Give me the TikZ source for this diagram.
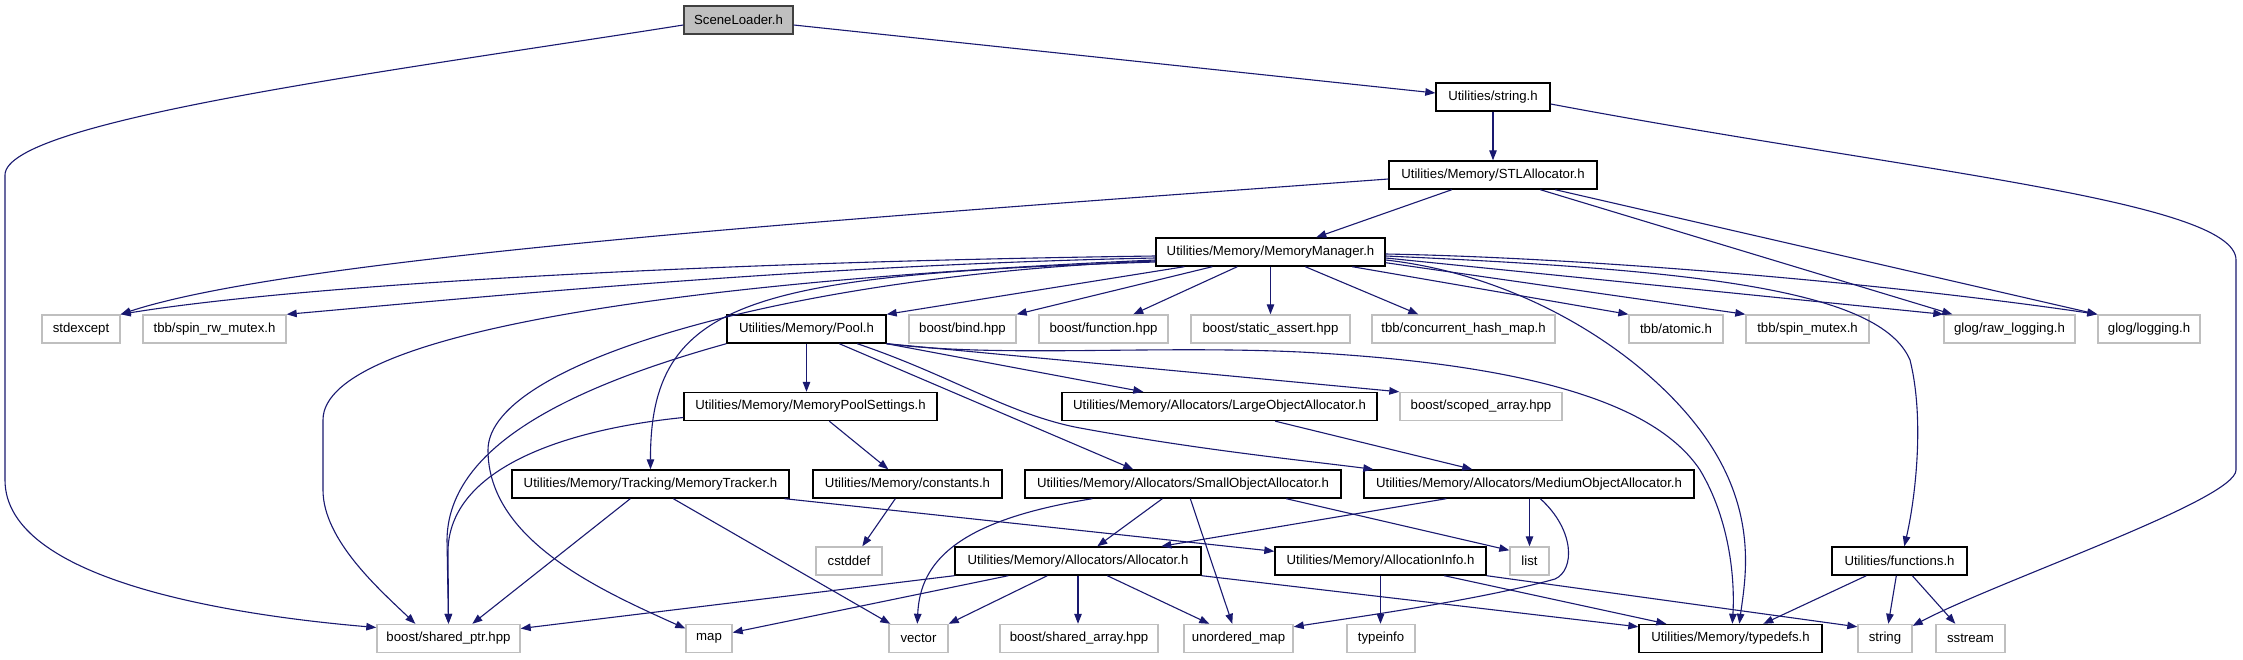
\documentclass[tikz,border=0pt]{standalone}
\usepackage{fontspec}
\setmainfont{Liberation Sans}
\usetikzlibrary{arrows.meta,calc}
\definecolor{edgeblue}{HTML}{191970}
\definecolor{boxgray}{HTML}{BFBFBF}
\definecolor{rootfill}{HTML}{BFBFBF}
\definecolor{rootdraw}{HTML}{404040}
\newcommand{\lblfont}{\fontsize{13.2}{15.8}\selectfont}
\tikzset{
  bbox/.style={draw=black, fill=white, line width=1.4pt, minimum height=28pt, inner sep=0pt, font=\lblfont},
  gbox/.style={bbox, draw=boxgray},
  rbox/.style={bbox, draw=rootdraw, fill=rootfill},
  edge/.style={draw=edgeblue, line width=1.1pt, -{Triangle[length=10pt,width=7.5pt]}},
}
\begin{document}
\begin{tikzpicture}[x=1pt,y=-1pt]
\fill[white] (0,0) rectangle (2243,659);
\useasboundingbox (0,0) rectangle (2243,659);
% row 1-4
\node[rbox, minimum width=109pt] (scene) at (738.5,20) {SceneLoader.h};
\node[bbox, minimum width=114pt] (strh) at (1493,97) {Utilities/string.h};
\node[bbox, minimum width=208pt] (stl) at (1493,175) {Utilities/Memory/STLAllocator.h};
\node[bbox, minimum width=229pt] (mm) at (1270.5,252) {Utilities/Memory/MemoryManager.h};
% row 5
\node[gbox, minimum width=78pt] (stdexcept) at (81,329) {stdexcept};
\node[gbox, minimum width=143pt] (spinrw) at (214.5,329) {tbb/spin\_rw\_mutex.h};
\node[bbox, minimum width=159pt] (pool) at (806.5,329) {Utilities/Memory/Pool.h};
\node[gbox, minimum width=107pt] (bind) at (962.5,329) {boost/bind.hpp};
\node[gbox, minimum width=129pt] (function) at (1103.5,329) {boost/function.hpp};
\node[gbox, minimum width=159pt] (sassert) at (1270.5,329) {boost/static\_assert.hpp};
\node[gbox, minimum width=183pt] (chm) at (1463.5,329) {tbb/concurrent\_hash\_map.h};
\node[gbox, minimum width=94pt] (atomic) at (1676,329) {tbb/atomic.h};
\node[gbox, minimum width=123pt] (spinm) at (1807.5,329) {tbb/spin\_mutex.h};
\node[gbox, minimum width=131pt] (rawlog) at (2009.5,329) {glog/raw\_logging.h};
\node[gbox, minimum width=102pt] (glog) at (2149,329) {glog/logging.h};
% row 6
\node[bbox, minimum width=253pt] (mps) at (810.5,406.5) {Utilities/Memory/MemoryPoolSettings.h};
\node[bbox, minimum width=315pt] (large) at (1219.5,406.5) {Utilities/Memory/Allocators/LargeObjectAllocator.h};
\node[gbox, minimum width=162pt] (scoped) at (1481,406.5) {boost/scoped\_array.hpp};
% row 7
\node[bbox, minimum width=277pt] (tracker) at (650.5,484) {Utilities/Memory/Tracking/MemoryTracker.h};
\node[bbox, minimum width=189pt] (constants) at (907.5,484) {Utilities/Memory/constants.h};
\node[bbox, minimum width=316pt] (small) at (1183,484) {Utilities/Memory/Allocators/SmallObjectAllocator.h};
\node[bbox, minimum width=330pt] (medium) at (1529,484) {Utilities/Memory/Allocators/MediumObjectAllocator.h};
% row 8
\node[gbox, minimum width=66pt] (cstddef) at (849,561) {cstddef};
\node[bbox, minimum width=246pt] (alloc) at (1078,561) {Utilities/Memory/Allocators/Allocator.h};
\node[bbox, minimum width=211pt] (ainfo) at (1380.5,561) {Utilities/Memory/AllocationInfo.h};
\node[gbox, minimum width=39pt] (list) at (1529.5,561) {list};
\node[bbox, minimum width=135pt] (functions) at (1899.5,561) {Utilities/functions.h};
% row 9
\node[gbox, minimum width=143pt] (sptr) at (448.5,638.5) {boost/shared\_ptr.hpp};
\node[gbox, minimum width=46pt] (map) at (709,638.5) {map};
\node[gbox, minimum width=59pt] (vector) at (918.5,638.5) {vector};
\node[gbox, minimum width=158pt] (sarray) at (1079,638.5) {boost/shared\_array.hpp};
\node[gbox, minimum width=109pt] (umap) at (1238.5,638.5) {unordered\_map};
\node[gbox, minimum width=68pt] (typeinfo) at (1381,638.5) {typeinfo};
\node[bbox, minimum width=183pt] (typedefs) at (1730.5,638.5) {Utilities/Memory/typedefs.h};
\node[gbox, minimum width=54pt] (string) at (1885,638.5) {string};
\node[gbox, minimum width=69pt] (sstream) at (1970.5,638.5) {sstream};

% SceneLoader
\draw[edge] ($(scene.east)+(0,5)$) -- ($(strh.west)+(0,-4)$);
\draw[edge] ($(scene.west)+(0,5)$) .. controls (400,70) and (5,120) .. (5,175) -- (5,480) .. controls (5,580) and (230,615) .. ($(sptr.west)+(0,-11)$);
% string.h
\draw[edge] (strh.south) -- (stl.north);
\draw[edge] ($(strh.east)+(0,7)$) .. controls (1900,170) and (2236,200) .. (2236,260) -- (2236,470) .. controls (2236,500) and (2000,580) .. ($(string.north east)+(0,2)$);
% STLAllocator
\draw[edge] ($(stl.south west)+(63.5,0)$) -- ($(mm.north west)+(161,0)$);
\draw[edge] ($(stl.west)+(0,4)$) .. controls (900,215) and (300,255) .. (stdexcept.north east);
\draw[edge] ($(stl.south west)+(152,0)$) -- ($(rawlog.north west)+(9,0)$);
\draw[edge] ($(stl.south west)+(167,0)$) -- (glog.north west);
% MemoryManager
\draw[edge] ($(mm.west)+(0,4)$) .. controls (700,262) and (300,285) .. (stdexcept.north east);
\draw[edge] ($(mm.west)+(0,6)$) .. controls (800,265) and (450,300) .. (spinrw.north east);
\draw[edge] ($(mm.south west)+(29,0)$) -- (pool.north east);
\draw[edge] ($(mm.south west)+(57,0)$) -- (bind.north east);
\draw[edge] ($(mm.south west)+(82,0)$) -- ($(function.north west)+(95,0)$);
\draw[edge] (mm.south) -- (sassert.north);
\draw[edge] ($(mm.south west)+(150,0)$) -- ($(chm.north west)+(47,0)$);
\draw[edge] ($(mm.south west)+(197,0)$) -- (atomic.north west);
\draw[edge] ($(mm.south east)+(0,-4)$) -- (spinm.north west);
\draw[edge] ($(mm.east)+(0,6)$) -- (rawlog.north west);
\draw[edge] ($(mm.east)+(0,2)$) .. controls (1600,258) and (1900,285) .. (glog.north west);
\draw[edge] ($(mm.east)+(0,4)$) .. controls (1700,270) and (1880,290) .. (1910,360) .. controls (1925,420) and (1915,500) .. ($(functions.north west)+(73,0)$);
\draw[edge] ($(mm.east)+(0,8)$) .. controls (1520,275) and (1640,350) .. (1700,430) .. controls (1760,510) and (1745,580) .. ($(typedefs.north west)+(101,0)$);
\draw[edge] ($(mm.west)+(0,8)$) .. controls (700,280) and (323,330) .. (323,420) -- (323,490) .. controls (323,540) and (380,590) .. ($(sptr.north west)+(39,0)$);
\draw[edge] ($(mm.west)+(0,9)$) .. controls (800,275) and (488,360) .. (488,450) .. controls (488,540) and (600,590) .. ($(map.west)+(0,-10)$);
\draw[edge] ($(mm.west)+(0,10)$) .. controls (750,275) and (650,300) .. (tracker.north);
% Pool
\draw[edge] (pool.south) -- (pool.south |- mps.north);
\draw[edge] (pool.south east) -- ($(large.north west)+(82,0)$);
\draw[edge] (pool.south east) -- (scoped.north west);
\draw[edge] ($(pool.south west)+(113,0)$) -- ($(small.north west)+(109,0)$);
\draw[edge] ($(pool.south west)+(131,0)$) .. controls (950,375) and (1010,415) .. (1080,428) .. controls (1200,450) and (1300,460) .. ($(medium.north west)+(10,0)$);
\draw[edge] (pool.south east) .. controls (1000,358) and (1150,345) .. (1300,352) .. controls (1550,365) and (1660,410) .. (1700,470) .. controls (1730,520) and (1735,580) .. ($(typedefs.north west)+(94,0)$);
\draw[edge] (pool.south west) .. controls (560,390) and (448,450) .. (447,540) -- (sptr.north);
% MemoryPoolSettings
\draw[edge] ($(mps.south west)+(146,0)$) -- ($(constants.north west)+(76,0)$);
\draw[edge] ($(mps.west)+(0,11)$) .. controls (560,430) and (450,470) .. (448,550) -- (sptr.north);
% MemoryTracker
\draw[edge] ($(tracker.south west)+(119,0)$) -- ($(sptr.north west)+(96,0)$);
\draw[edge] ($(tracker.south west)+(162,0)$) -- ($(vector.north west)+(2,0)$);
\draw[edge] ($(tracker.south east)+(-5,0)$) -- ($(ainfo.north west)+(0,5)$);
% constants
\draw[edge] ($(constants.south west)+(83,0)$) -- ($(cstddef.north west)+(47,0)$);
% SmallObjectAllocator
\draw[edge] ($(small.south west)+(68,0)$) .. controls (960,520) and (920,560) .. ($(vector.north west)+(29,0)$);
\draw[edge] ($(small.south west)+(138,0)$) -- ($(alloc.north west)+(143,0)$);
\draw[edge] ($(small.south west)+(166,0)$) -- ($(umap.north west)+(49,0)$);
\draw[edge] ($(small.south west)+(262,0)$) -- ($(list.north west)+(0,4)$);
% MediumObjectAllocator
\draw[edge] ($(medium.south west)+(83,0)$) -- ($(alloc.north west)+(207,0)$);
\draw[edge] (list.north |- medium.south) -- (list.north);
\draw[edge] ($(medium.south west)+(177,0)$) .. controls (1575,530) and (1575,570) .. (1555,579) .. controls (1480,600) and (1350,618) .. ($(umap.north east)+(0,3)$);
% LargeObjectAllocator
\draw[edge] ($(large.south west)+(214,0)$) -- ($(medium.north west)+(109,0)$);
% Allocator
\draw[edge] (alloc.south west) -- ($(sptr.east)+(0,-10)$);
\draw[edge] ($(alloc.south west)+(54,0)$) -- ($(map.east)+(0,-6)$);
\draw[edge] ($(alloc.south west)+(93,0)$) -- (vector.north east);
\draw[edge] (alloc.south) -- (alloc.south |- sarray.north);
\draw[edge] ($(alloc.south west)+(153,0)$) -- ($(umap.north west)+(26,0)$);
\draw[edge] (alloc.south east) -- ($(typedefs.north west)+(0,3)$);
% AllocationInfo
\draw[edge] (ainfo.south) -- (ainfo.south |- typeinfo.north);
\draw[edge] ($(ainfo.south west)+(170,0)$) -- ($(typedefs.north west)+(28,0)$);
\draw[edge] (ainfo.south east) -- ($(string.north west)+(0,3)$);
% functions
\draw[edge] ($(functions.south west)+(35,0)$) -- ($(typedefs.north west)+(125,0)$);
\draw[edge] ($(functions.south west)+(65,0)$) -- ($(string.north west)+(31,0)$);
\draw[edge] ($(functions.south west)+(81,0)$) -- ($(sstream.north west)+(20,0)$);
\end{tikzpicture}
\end{document}
